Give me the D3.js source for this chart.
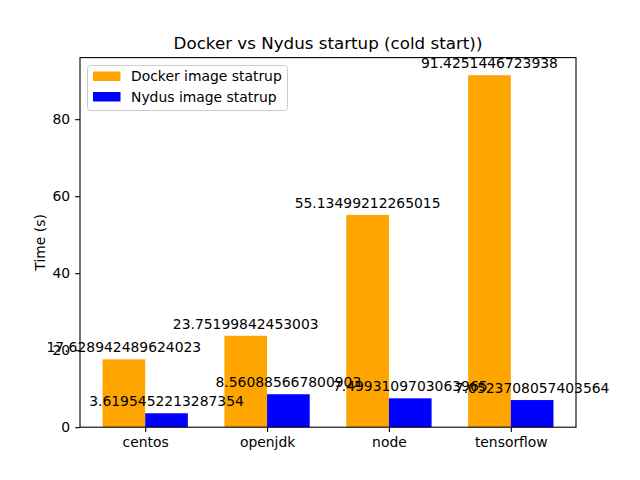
<!DOCTYPE html>
<html><head><meta charset="utf-8">
<script src="https://cdn.jsdelivr.net/npm/d3@7"></script>
<style>body{margin:0;background:#fff}svg{display:block;font-family:"DejaVu Sans",sans-serif}</style>
</head><body><svg id="c" width="640" height="480"></svg>
<script>
const categories = ["centos", "openjdk", "node", "tensorflow"];
const dockerValues = [17.628942489624023, 23.75199842453003, 55.13499212265015, 91.4251446723938];
const nydusValues = [3.6195452213287354, 8.560885667800903, 7.4993109703063965, 7.0523708057403564];
const dockerLabels = ["17.628942489624023", "23.75199842453003", "55.13499212265015", "91.4251446723938"];
const nydusLabels = ["3.6195452213287354", "8.560885667800903", "7.4993109703063965", "7.0523708057403564"];
const yTicks = [0, 20, 40, 60, 80];
const seriesNames = ["Docker image statrup", "Nydus image statrup"];
const colors = ["#FFA500", "#0000FF"];

const svg = d3.select("#c");
const L = 80, R = 576, T = 57.6, B = 427.2;
const bw = 0.35;
const x = d3.scaleLinear().domain([-0.5 - bw/2 - 0.185 + 0.175 - 0.175 + 0.175, 0]).range([L, R]);
x.domain([-0.535, 3.535]);
const ymax = d3.max(dockerValues.concat(nydusValues)) * 1.05;
const y = d3.scaleLinear().domain([0, ymax]).range([B, T]);

svg.append("text").attr("x", (L+R)/2).attr("y", 49).attr("text-anchor", "middle")
  .attr("font-size", 16.7).text("Docker vs Nydus startup (cold start))");

const series = [dockerValues, nydusValues];
const labels = [dockerLabels, nydusLabels];
series.forEach((vals, s) => {
  const off = s === 0 ? -bw/2 : bw/2;
  svg.append("g").selectAll("rect").data(vals).join("rect")
    .attr("x", (d, i) => x(i + off - bw/2))
    .attr("width", (d, i) => x(i + off + bw/2) - x(i + off - bw/2))
    .attr("y", d => y(d)).attr("height", d => B - y(d))
    .attr("fill", colors[s]);
});
series.forEach((vals, s) => {
  const off = s === 0 ? -bw/2 : bw/2;
  svg.append("g").selectAll("text").data(vals).join("text")
    .attr("x", (d, i) => x(i + off)).attr("y", d => y(d) - 7)
    .attr("text-anchor", "middle").attr("font-size", 13.9).attr("fill", "#000")
    .text((d, i) => labels[s][i]);
});

const xAxis = d3.axisBottom(x).tickValues(d3.range(categories.length)).tickFormat(i => categories[i]).tickSize(4.9).tickPadding(4.9);
const gx = svg.append("g").attr("transform", `translate(0,${B})`).call(xAxis);
gx.select(".domain").remove();
gx.selectAll("text").attr("font-size", 13.9).attr("font-family", "DejaVu Sans").attr("fill", "#000");
gx.selectAll("line").attr("stroke", "#000").attr("stroke-width", 1.1);

const yAxis = d3.axisLeft(y).tickValues(yTicks).tickSize(4.9).tickPadding(4.9);
const gy = svg.append("g").attr("transform", `translate(${L},0)`).call(yAxis);
gy.select(".domain").remove();
gy.selectAll("text").attr("font-size", 13.9).attr("font-family", "DejaVu Sans").attr("fill", "#000");
gy.selectAll("line").attr("stroke", "#000").attr("stroke-width", 1.1);

svg.append("rect").attr("x", L).attr("y", T).attr("width", R-L).attr("height", B-T)
  .attr("fill", "none").attr("stroke", "#000").attr("stroke-width", 1.1);

svg.append("text").attr("transform", `translate(45,${(T+B)/2}) rotate(-90)`)
  .attr("text-anchor", "middle").attr("font-size", 13.9).text("Time (s)");

const lg = svg.append("g");
lg.append("rect").attr("x", 87.5).attr("y", 65.5).attr("width", 200).attr("height", 45)
  .attr("rx", 3).attr("fill", "#fff").attr("fill-opacity", 0.8).attr("stroke", "#ccc");
seriesNames.forEach((n, k) => {
  lg.append("rect").attr("x", 93).attr("y", 71.5 + k*20.5).attr("width", 27.5).attr("height", 9.5).attr("fill", colors[k]);
  lg.append("text").attr("x", 131).attr("y", 81 + k*20.5).attr("font-size", 13.9).text(n);
});
</script></body></html>
